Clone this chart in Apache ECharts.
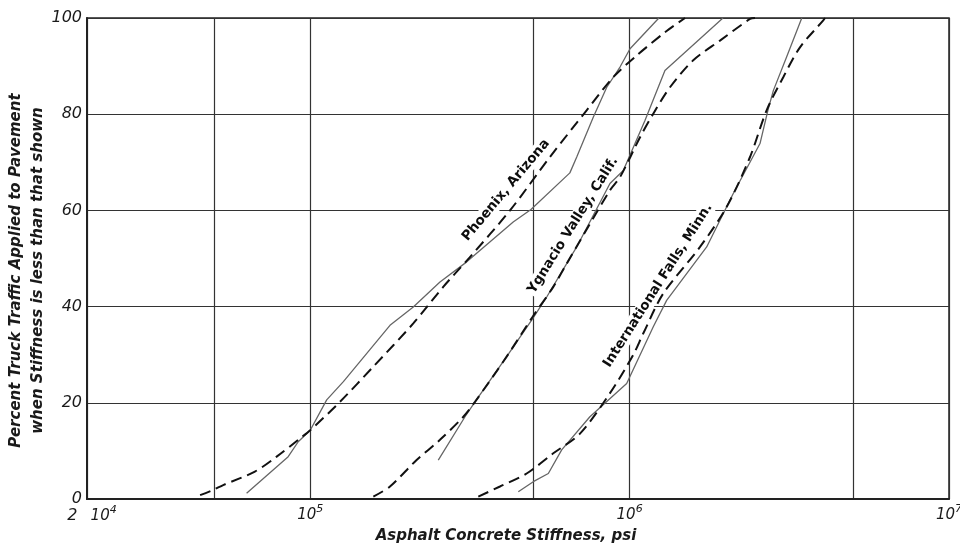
<!DOCTYPE html>
<html><head><meta charset="utf-8">
<script src="https://cdn.jsdelivr.net/npm/echarts@6/dist/echarts.min.js"></script>
<style>html,body{margin:0;padding:0;background:#fff}#c{width:960px;height:544px}</style>
</head><body><div id="c"></div>
<script>
// ---- data (stiffness in psi, percent of truck traffic) ----
const phoenixObsX = [63200, 85300, 91700, 100000, 112600, 127000, 177700, 210200, 254800, 309000, 432000, 491000, 650000, 683000, 770000, 848000, 933000, 1003000, 1235000];
const phoenixObsY = [1.2, 8.8, 11.9, 14.3, 20.6, 24.4, 36.1, 39.9, 45.1, 49.3, 57.6, 60.2, 67.8, 71.1, 79.4, 85.6, 89.8, 93.6, 100];
const phoenixFitX = [45200, 49700, 53400, 67100, 78500, 92900, 100000, 123900, 157500, 210200, 260900, 316300, 422200, 563000, 733600, 888800, 1052000, 1306000, 1491000];
const phoenixFitY = [0.8, 1.9, 2.9, 5.7, 8.8, 12.6, 14.3, 20.2, 27.5, 36.5, 44.1, 50.3, 60.0, 71.1, 80.8, 87.7, 92.2, 97.3, 100];

const ygnacioObsX = [251700, 305200, 328000, 412100, 497200, 550000, 682800, 867900, 955500, 1117000, 1290000, 1960000];
const ygnacioObsY = [8.1, 17.1, 20.2, 29.6, 37.5, 42.0, 52.4, 65.6, 68.3, 78.7, 89.1, 100];
const ygnacioFitX = [157600, 177700, 215300, 254800, 301600, 328000, 412100, 497200, 576800, 635000, 867900, 932800, 1078000, 1186000, 1338000, 1582000, 1918000, 2382000, 2469000];
const ygnacioFitY = [0.5, 2.6, 8.1, 12.3, 17.1, 20.2, 29.6, 37.9, 44.1, 48.9, 64.2, 66.9, 75.2, 80.1, 85.6, 91.2, 95.3, 99.8, 100];

const intlObsX = [448200, 499300, 556500, 612800, 751000, 979000, 1186000, 1306000, 1743000, 2111000, 2560000, 2710000, 2818000, 3101000, 3460000];
const intlObsY = [1.5, 3.6, 5.3, 10.2, 17.1, 24.0, 35.8, 41.3, 52.4, 63.5, 73.9, 80.8, 84.9, 91.9, 100];
const intlFitX = [335900, 392700, 476000, 576800, 699100, 867900, 1027000, 1103000, 1274000, 1661000, 2012000, 2382000, 2685000, 3027000, 3415000, 4039000, 4089000];
const intlFitY = [0.5, 2.6, 5.3, 9.5, 13.6, 22.0, 30.0, 34.4, 42.7, 52.4, 60.7, 71.1, 80.8, 87.7, 93.9, 99.5, 100];

// ---- axes ----
const xGridValues = [20000, 50000, 100000, 500000, 1000000, 5000000, 10000000];
const xLabelValues = [20000, 100000, 1000000, 10000000];
const xLabelMantissa = ['2 ', '', '', ''];
const xLabelExponent = ['4', '5', '6', '7'];
const yMin = 0, yMax = 100, yInterval = 20;

// ---- curve labels ----
const curveNames = ['Phoenix, Arizona', 'Ygnacio Valley, Calif.', 'International Falls, Minn.'];
const curveLabelX = [410000, 665000, 1227000];
const curveLabelY = [64.2, 56.9, 44.4];
const curveLabelAngle = [50, 58, 57.5];

function zip(xs, ys) { return xs.map((x, i) => [x, ys[i]]); }

const FONT = 'DejaVu Sans';
const INK = '#1a1a1a';

const obsStyle = { color: '#666', width: 1.3, type: 'solid' };
const fitStyle = { color: '#111', width: 2, type: [11, 6] };

function lineSeries(name, data, style, smooth) {
  return {
    name, type: 'line', data, showSymbol: false, symbol: 'none', smooth: smooth,
    lineStyle: style, z: 3, silent: true, animation: false
  };
}

const series = [
  lineSeries('Phoenix observed', zip(phoenixObsX, phoenixObsY), obsStyle, false),
  lineSeries('Phoenix fit', zip(phoenixFitX, phoenixFitY), fitStyle, 0.3),
  lineSeries('Ygnacio observed', zip(ygnacioObsX, ygnacioObsY), obsStyle, false),
  lineSeries('Ygnacio fit', zip(ygnacioFitX, ygnacioFitY), fitStyle, 0.3),
  lineSeries('Intl observed', zip(intlObsX, intlObsY), obsStyle, false),
  lineSeries('Intl fit', zip(intlFitX, intlFitY), fitStyle, 0.3),
  {
    type: 'scatter', z: 1, silent: true, animation: false, symbolSize: 0,
    itemStyle: { color: '#fff', opacity: 1 },
    data: curveNames.map((n, i) => ({
      value: [curveLabelX[i], curveLabelY[i]],
      label: {
        show: true, position: 'inside', formatter: n, rotate: curveLabelAngle[i],
        fontFamily: FONT, fontSize: 13.5, fontWeight: 'bold', color: '#0d0d0d',
        textBorderWidth: 0, textBorderColor: 'transparent', opacity: 1,
        backgroundColor: '#fff', padding: [1, 2]
      }
    }))
  }
];

const chart = echarts.init(document.getElementById('c'), null, { renderer: 'canvas' });
chart.setOption({
  animation: false,
  backgroundColor: '#fff',
  grid: { left: 87, right: 11, top: 18, bottom: 45, outerBoundsMode: 'none', containLabel: false, show: true, borderColor: '#222', borderWidth: 1.5, backgroundColor: 'transparent' },
  xAxis: {
    type: 'log', logBase: 10, min: 20000, max: 10000000,
    axisLine: { show: true, onZero: false, lineStyle: { color: '#222', width: 2 } },
    axisTick: { show: false, customValues: xGridValues },
    splitLine: { show: true, lineStyle: { color: '#333', width: 1.2 } },
    minorTick: { show: false }, minorSplitLine: { show: false },
    axisLabel: {
      customValues: xLabelValues, margin: 5, color: INK,
      formatter: function (v) {
        const i = xLabelValues.findIndex(t => Math.abs(t - v) / t < 1e-6);
        if (i < 0) return '';
        return (xLabelMantissa[i] ? '{m|' + xLabelMantissa[i] + '}' : '') + '{b|10}{s|' + xLabelExponent[i] + '}';
      },
      rich: {
        m: { fontFamily: FONT, fontStyle: 'italic', fontSize: 16, color: INK, padding: [4, 8, 0, 10] },
        b: { fontFamily: FONT, fontStyle: 'italic', fontSize: 15, color: INK, padding: [4, 0, 0, 0] },
        s: { fontFamily: FONT, fontStyle: 'italic', fontSize: 11, color: INK, padding: [0, 0, 8, 0] }
      }
    },
    name: 'Asphalt Concrete Stiffness, psi', nameLocation: 'middle', nameGap: 25,
    nameTextStyle: { fontFamily: FONT, fontStyle: 'italic', fontWeight: 'bold', fontSize: 15, color: INK, padding: [0, 24, 0, 0] }
  },
  yAxis: {
    type: 'value', min: yMin, max: yMax, interval: yInterval,
    axisLine: { show: true, lineStyle: { color: '#222', width: 2 } },
    axisTick: { show: false },
    splitLine: { show: true, lineStyle: { color: '#333', width: 1.2 } },
    axisLabel: { margin: 5, fontFamily: FONT, fontStyle: 'italic', fontSize: 16, color: INK },
    name: 'Percent Truck Traffic Applied to Pavement\nwhen Stiffness is less than that shown',
    nameLocation: 'middle', nameGap: 38, nameMoveOverlap: false,
    nameTextStyle: { fontFamily: FONT, fontStyle: 'italic', fontWeight: 'bold', fontSize: 15, color: INK, lineHeight: 22, padding: [0, 24, 0, 0] }
  },
  series
});
</script></body></html>
